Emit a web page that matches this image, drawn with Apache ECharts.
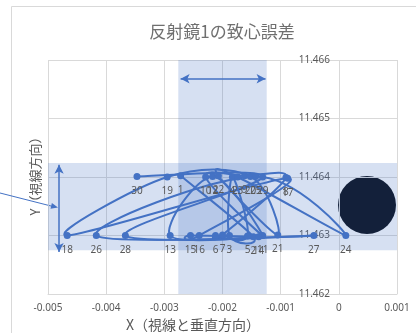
<!DOCTYPE html>
<html>
<head>
<meta charset="utf-8">
<script src="https://cdn.jsdelivr.net/npm/echarts@6/dist/echarts.min.js"></script>
<style>
  html, body { margin: 0; padding: 0; background: #fff; }
  #chart { width: 416px; height: 333px; }
</style>
</head>
<body>
<div id="chart"></div>
<script>
// 点番号 1..30 の順に並べた測定値
const pointNo = [1, 2, 3, 4, 5, 6, 7, 8, 9, 10, 11, 12, 13, 14, 15, 16, 17, 18, 19, 20, 21, 22, 23, 24, 25, 26, 27, 28, 29, 30];
const xValues = [-0.00272, -0.00147, -0.00188, -0.00183, -0.00157, -0.00212, -0.00200, -0.00091, -0.00162, -0.00229,
                 -0.00131, -0.00217, -0.00290, -0.00138, -0.00255, -0.00240, -0.00088, -0.00467, -0.00295, -0.00152,
                 -0.00105, -0.00207, -0.00174, 0.00012, -0.00143, -0.00417, -0.00043, -0.00367, -0.00131, -0.00347];
const yValues = [11.46402, 11.46298, 11.46300, 11.46400, 11.46299, 11.46300, 11.46301, 11.46399, 11.46402, 11.46400,
                 11.46300, 11.46401, 11.46300, 11.46298, 11.46300, 11.46300, 11.46398, 11.46300, 11.46400, 11.46401,
                 11.46301, 11.46402, 11.46400, 11.46300, 11.46401, 11.46300, 11.46300, 11.46300, 11.46400, 11.46401];

// 許容範囲（帯）と矢印
const xBand = [-0.00276, -0.00124];
const yBand = [11.46275, 11.46424];
const xArrow = [-0.00272, -0.00126, 11.46568];
const yArrow = [11.46272, 11.46421, -0.00481];

const titleText = '反射鏡1の致心誤差';
const xName = 'X（視線と垂直方向）';
const yName = 'Y（視線方向）';

const blue = '#4472c4';
const grey = '#595959';
const jp = '"Noto Sans CJK JP", "Noto Sans", sans-serif';

const chart = echarts.init(document.getElementById('chart'));
const data = pointNo.map((n, i) => [xValues[i], yValues[i], n]);
const last = data.length - 1;

// Excel風の平滑線（Catmull-Rom）: 点 i から i+1 への区間を描く
function renderSegment(params, api) {
  const i = params.dataIndex;
  if (i >= last) return null;
  const pt = j => api.coord([xValues[j], yValues[j]]);
  const p0 = pt(Math.max(i - 1, 0));
  const p1 = pt(i);
  const p2 = pt(i + 1);
  const p3 = pt(Math.min(i + 2, last));
  return {
    type: 'bezierCurve',
    shape: {
      x1: p1[0], y1: p1[1], x2: p2[0], y2: p2[1],
      cpx1: p1[0] + (p2[0] - p0[0]) / 6, cpy1: p1[1] + (p2[1] - p0[1]) / 6,
      cpx2: p2[0] - (p3[0] - p1[0]) / 6, cpy2: p2[1] - (p3[1] - p1[1]) / 6
    },
    style: { stroke: blue, lineWidth: 2, fill: 'none' }
  };
}

// Y軸は x=0 の位置に置く（グリッド左端から 291px）
const yAxisShift = 291;

chart.setOption({
  animation: false,
  title: {
    text: titleText,
    left: 217, top: 18, textAlign: 'center',
    textStyle: { fontFamily: jp, fontSize: 17, fontWeight: 'normal', color: '#6f6f6f' }
  },
  grid: { left: 48, right: 19, top: 60, bottom: 39 },
  xAxis: {
    type: 'value', min: -0.005, max: 0.001, interval: 0.001,
    axisLine: { show: true, onZero: false, lineStyle: { color: '#d9d9d9' } },
    axisTick: { show: false },
    splitLine: { lineStyle: { color: '#d9d9d9' } },
    axisLabel: {
      color: grey, fontSize: 10, fontFamily: 'Noto Sans', margin: 9,
      formatter: v => String(+v.toFixed(3))
    }
  },
  yAxis: {
    type: 'value', min: 11.462, max: 11.466, interval: 0.001,
    position: 'left', offset: -yAxisShift,
    axisLine: { show: false, onZero: false },
    axisTick: { show: false },
    splitLine: { lineStyle: { color: '#d9d9d9' } },
    axisLabel: {
      color: grey, fontSize: 10, fontFamily: 'Noto Sans', margin: 9,
      formatter: v => v.toFixed(3)
    }
  },
  series: [{
    type: 'custom',
    data: data,
    renderItem: renderSegment,
    silent: true,
    z: 2
  }, {
    type: 'scatter',
    data: data,
    symbol: 'circle',
    symbolSize: 7,
    itemStyle: { color: blue, opacity: 1 },
    z: 3,
    label: {
      show: true, position: 'bottom', distance: 6,
      color: grey, fontSize: 10, fontFamily: 'Noto Sans',
      formatter: p => p.value[2]
    },
    markArea: {
      silent: true,
      itemStyle: { color: 'rgba(68,114,196,0.22)' },
      data: [
        [{ xAxis: xBand[0] }, { xAxis: xBand[1] }],
        [{ yAxis: yBand[0] }, { yAxis: yBand[1] }]
      ]
    },
    markLine: {
      silent: true,
      symbol: ['arrow', 'arrow'],
      symbolSize: [7, 9],
      label: { show: false },
      lineStyle: { color: blue, width: 1.5, type: 'solid' },
      data: [
        [{ coord: [xArrow[0], xArrow[2]] }, { coord: [xArrow[1], xArrow[2]] }],
        [{ coord: [yArrow[2], yArrow[0]] }, { coord: [yArrow[2], yArrow[1]] }]
      ]
    }
  }],
  graphic: [
    { type: 'rect', shape: { x: 11.5, y: 6.5, width: 500, height: 400 },
      style: { fill: 'none', stroke: '#d9d9d9', lineWidth: 1 }, silent: true, z: -10 },
    { type: 'text', x: 193, y: 325,
      style: { text: xName, fill: grey, font: '14px ' + jp, textAlign: 'center', textVerticalAlign: 'middle' } },
    { type: 'text', x: 35, y: 173, rotation: Math.PI / 2,
      style: { text: yName, fill: grey, font: '13px ' + jp, textAlign: 'center', textVerticalAlign: 'middle' } },
    { type: 'line', shape: { x1: 0, y1: 193, x2: 53, y2: 206.5 },
      style: { stroke: blue, lineWidth: 1 } },
    { type: 'polygon', shape: { points: [[58, 207.5], [51.9, 202.9], [50.5, 208.7]] },
      style: { fill: blue } },
    { type: 'circle', shape: { cx: 367, cy: 205, r: 29 },
      style: { fill: '#060a14' } }
  ]
});
</script>
</body>
</html>
